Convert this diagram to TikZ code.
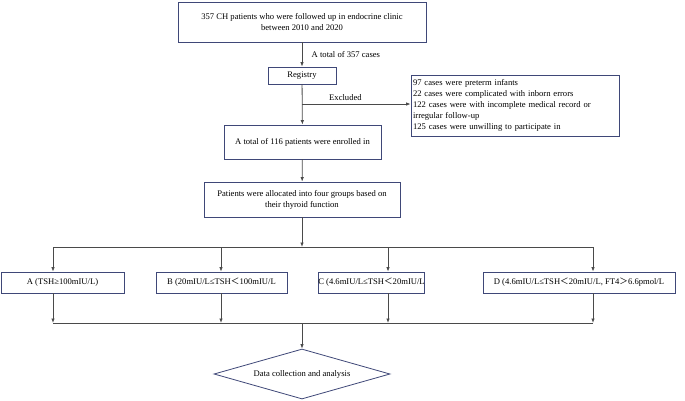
\documentclass[tikz,border=0pt]{standalone}
\usepackage{fontspec}
\setmainfont{Liberation Serif}
\newfontfamily\cjk{Noto Sans CJK SC}
\usetikzlibrary{shapes.geometric,arrows.meta,calc}
\definecolor{boxc}{HTML}{3F4878}
\definecolor{linec}{HTML}{4A4A4A}
\newcommand{\lt}{{\cjk\char"FF1C}}
\newcommand{\gt}{{\cjk\char"FF1E}}
\begin{document}
\begin{tikzpicture}[x=1pt,y=-1pt,
  font=\fontsize{8.6}{11}\selectfont,
  boxn/.style={draw=boxc,line width=0.8pt,rectangle,inner sep=0pt,align=center},
  arr/.style={draw=linec,line width=0.8pt,-{Latex[length=4.5pt,width=3.5pt]}},
  ln/.style={draw=linec,line width=0.8pt}]
\useasboundingbox (0,0) rectangle (685,400);
\fill[white] (0,0) rectangle (685,400);
\node[boxn,minimum width=248pt,minimum height=40pt] (top) at (302,22) {357 CH patients who were followed up in endocrine clinic\\between 2010 and 2020};
\node[boxn,minimum width=68pt,minimum height=17pt] (reg) at (302,75.5) {Registry};
\node[boxn,minimum width=208pt,minimum height=61pt,align=left,text width=204pt] (excl) at (515,105.5) {97 cases were preterm infants\\22 cases were complicated with inborn errors\\122 cases were with incomplete medical record or\\irregular follow-up\\125 cases were unwilling to participate in};
\node[boxn,minimum width=157pt,minimum height=34pt] (enr) at (302.5,142) {A total of 116 patients were enrolled in};
\node[boxn,minimum width=196pt,minimum height=35pt] (alloc) at (302,199.5) {Patients were allocated into four groups based on\\their thyroid function};
\node[boxn,minimum width=123pt,minimum height=21pt] (A) at (62.5,282.5) {A (TSH≥100mIU/L)};
\node[boxn,minimum width=131pt,minimum height=21pt] (B) at (221.5,282.5) {B (20mIU/L≤TSH\lt100mIU/L};
\node[boxn,minimum width=103pt,minimum height=21pt] (C) at (371.5,282.5) {C (4.6mIU/L≤TSH\lt20mIU/L};
\node[boxn,minimum width=192pt,minimum height=21pt] (D) at (579,282.5) {D (4.6mIU/L≤TSH\lt20mIU/L, FT4\gt6.6pmol/L};
\node[draw=boxc,line width=0.8pt,diamond,aspect=3.52,minimum width=176pt,minimum height=50pt,inner sep=0pt] (dc) at (302,374) {Data collection and analysis};
% top chain
\draw[arr] (top) -- node[right=6pt,pos=0.5] {A total of 357 cases} (reg);
\draw[arr] (reg) -- (enr);
\coordinate (exs) at (302,104);
\draw[arr] (exs) -- node[above=0pt,pos=0.4] {Excluded} (exs -| excl.west);
\draw[arr] (enr) -- (alloc);
% distribution bus
\coordinate (ta) at (53,247);
\coordinate (tb) at (221,247);
\coordinate (tc) at (388,247);
\coordinate (td) at (593,247);
\coordinate (tm) at (302,247);
\draw[arr] (alloc) -- (tm);
\draw[ln] (ta) -- (td);
\draw[arr] (ta) -- (ta |- A.north);
\draw[arr] (tb) -- (tb |- B.north);
\draw[arr] (tc) -- (tc |- C.north);
\draw[arr] (td) -- (td |- D.north);
% collection bus
\coordinate (ba) at (53,323);
\coordinate (bb) at (221,323);
\coordinate (bc) at (388,323);
\coordinate (bd) at (593,323);
\coordinate (bm) at (302,323);
\draw[ln] (ba) -- (bd);
\draw[arr] (ba |- A.south) -- (ba);
\draw[arr] (bb |- B.south) -- (bb);
\draw[arr] (bc |- C.south) -- (bc);
\draw[arr] (bd |- D.south) -- (bd);
\draw[arr] (bm) -- (dc.north);
\end{tikzpicture}
\end{document}
